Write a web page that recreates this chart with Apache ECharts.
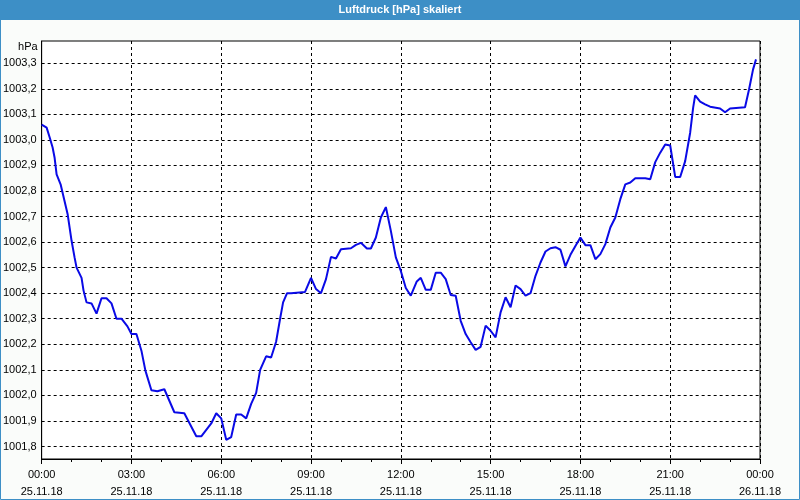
<!DOCTYPE html>
<html><head><meta charset="utf-8">
<script src="https://cdn.jsdelivr.net/npm/echarts@6/dist/echarts.min.js"></script>
<style>html,body{margin:0;padding:0;background:#fafcfa;}#c{width:800px;height:500px;}</style>
</head><body><div id="c"></div>
<script>
// time in minutes since 25.11.18 00:00
var minutes = [0,10,16,22,26,30,38,46,52,60,66,70,80,84,90,100,110,120,130,140,150,160,172,180,190,200,208,220,232,246,250,266,286,310,320,340,350,360,370,380,390,400,410,420,430,438,450,460,470,478,484,492,500,528,540,550,560,570,580,590,600,620,630,640,652,660,670,680,690,700,710,720,730,740,752,760,770,780,790,800,810,820,830,840,850,860,870,880,890,900,910,920,930,940,950,960,970,980,990,1000,1010,1020,1030,1040,1050,1060,1070,1080,1090,1100,1110,1120,1130,1140,1150,1160,1170,1180,1190,1210,1220,1230,1240,1250,1260,1270,1280,1290,1300,1306,1310,1320,1330,1340,1360,1370,1380,1410,1418,1426,1432];
var pressure = [1003.06,1003.048,1003.01,1002.97,1002.93,1002.865,1002.826,1002.76,1002.71,1002.605,1002.54,1002.50,1002.46,1002.41,1002.364,1002.36,1002.32,1002.38,1002.38,1002.36,1002.30,1002.30,1002.27,1002.24,1002.24,1002.175,1002.097,1002.02,1002.016,1002.024,1002.02,1001.934,1001.93,1001.84,1001.84,1001.89,1001.93,1001.91,1001.826,1001.837,1001.925,1001.925,1001.91,1001.967,1002.01,1002.10,1002.153,1002.148,1002.21,1002.30,1002.364,1002.40,1002.40,1002.405,1002.46,1002.416,1002.40,1002.455,1002.542,1002.536,1002.572,1002.576,1002.589,1002.597,1002.575,1002.575,1002.618,1002.696,1002.737,1002.644,1002.54,1002.487,1002.42,1002.39,1002.446,1002.46,1002.413,1002.413,1002.48,1002.48,1002.455,1002.393,1002.39,1002.292,1002.24,1002.208,1002.178,1002.19,1002.273,1002.253,1002.227,1002.325,1002.384,1002.345,1002.43,1002.416,1002.39,1002.40,1002.468,1002.52,1002.563,1002.576,1002.58,1002.57,1002.505,1002.55,1002.585,1002.618,1002.588,1002.588,1002.533,1002.553,1002.592,1002.657,1002.696,1002.768,1002.826,1002.833,1002.85,1002.85,1002.846,1002.913,1002.95,1002.982,1002.978,1002.855,1002.855,1002.917,1003.028,1003.126,1003.174,1003.15,1003.139,1003.13,1003.123,1003.108,1003.123,1003.128,1003.197,1003.275,1003.315];
var yTicks = [1001.8,1001.9,1002.0,1002.1,1002.2,1002.3,1002.4,1002.5,1002.6,1002.7,1002.8,1002.9,1003.0,1003.1,1003.2,1003.3];
var xTickLabels = ["00:00\n25.11.18","03:00\n25.11.18","06:00\n25.11.18","09:00\n25.11.18","12:00\n25.11.18","15:00\n25.11.18","18:00\n25.11.18","21:00\n25.11.18","00:00\n26.11.18"];
var titleText = "Luftdruck [hPa] skaliert";
var unitText = "hPa";

var chart = echarts.init(document.getElementById('c'), null, {renderer:'canvas'});
var font = '"Liberation Sans", Arial, sans-serif';
var data = minutes.map(function(m,i){return [m, pressure[i]];});
chart.setOption({
  animation:false,
  backgroundColor:'#fafcfa',
  graphic:[
    {type:'rect', shape:{x:0,y:0,width:800,height:20}, style:{fill:'#3d8fc6'}, z:0},
    {type:'rect', shape:{x:0.5,y:0.5,width:799,height:499}, style:{fill:null, stroke:'#3d8fc6', lineWidth:1}, z:0},
    {type:'text', x:400, y:10, style:{text:titleText, fill:'#ffffff', font:'bold 11px '+font, align:'center', verticalAlign:'middle'}, z:10}
  ],
  grid:{left:40, right:40, top:41, bottom:40, show:true, backgroundColor:'#ffffff', borderColor:'#000000', borderWidth:1, containLabel:false},
  xAxis:{
    type:'value', min:0, max:1440, interval:180,
    axisLine:{show:true, lineStyle:{color:'#000', width:1}},
    axisTick:{show:true, length:5, lineStyle:{color:'#000'}},
    minorTick:{show:true, splitNumber:3, length:3, lineStyle:{color:'#000'}},
    splitLine:{show:true, lineStyle:{color:'#000', type:[3,3], width:1}},
    axisLabel:{color:'#000', fontFamily:font, fontSize:11, margin:7, lineHeight:17,
      showMinLabel:true, showMaxLabel:true,
      formatter:function(v){return xTickLabels[Math.round(v/180)];}}
  },
  yAxis:{
    type:'value', min:1001.751, max:1003.387,
    name:unitText, nameLocation:'end', nameGap:-6,
    nameTextStyle:{color:'#000', fontFamily:font, fontSize:11, align:'right', verticalAlign:'middle', padding:[0,4,0,0]},
    axisLine:{show:true, lineStyle:{color:'#000', width:1}},
    axisTick:{show:false, customValues:yTicks},
    splitLine:{show:true, lineStyle:{color:'#000', type:[3,3], width:1}},
    axisLabel:{color:'#000', fontFamily:font, fontSize:11, margin:5, customValues:yTicks,
      formatter:function(v){return v.toFixed(1).replace('.',',');}}
  },
  series:[{type:'line', data:data, showSymbol:false, symbol:'none', lineStyle:{color:'#0a0ae6', width:2}, clip:true}]
});
</script></body></html>
